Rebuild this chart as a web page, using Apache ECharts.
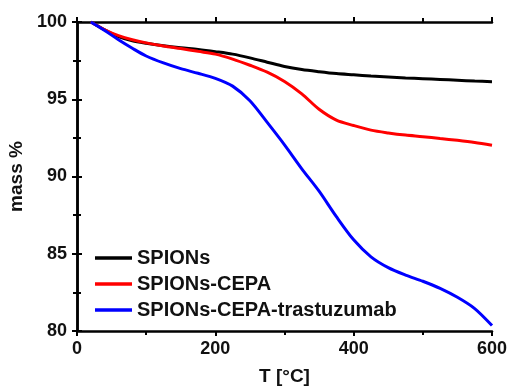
<!DOCTYPE html>
<html>
<head>
<meta charset="utf-8">
<script src="https://cdn.jsdelivr.net/npm/echarts@6/dist/echarts.min.js"></script>
<style>
  html, body { margin: 0; padding: 0; background: #fff; }
  #chart { width: 510px; height: 387px; }
</style>
</head>
<body>
<div id="chart"></div>
<script>
// temperature grid (°C)
const temps = [20, 40, 60, 80, 100, 125, 150, 175, 200, 225, 250, 275, 300,
  325, 350, 375, 400, 425, 450, 475, 500, 525, 550, 575, 600];
const spions = [100, 99.5, 99.05, 98.78, 98.62, 98.46, 98.33, 98.22, 98.08, 97.92, 97.68, 97.4, 97.12,
  96.92, 96.78, 96.66, 96.58, 96.5, 96.44, 96.38, 96.33, 96.28, 96.23, 96.18, 96.14];
const spionsCepa = [100, 99.5, 99.12, 98.85, 98.65, 98.45, 98.28, 98.1, 97.92, 97.6, 97.2, 96.75, 96.15,
  95.35, 94.35, 93.65, 93.3, 93.0, 92.82, 92.68, 92.58, 92.46, 92.34, 92.2, 92.02];
const spionsCepaTras = [100, 99.45, 98.85, 98.3, 97.8, 97.35, 96.98, 96.68, 96.35, 95.85, 94.9, 93.5, 92.05,
  90.5, 89.05, 87.4, 85.9, 84.8, 84.1, 83.62, 83.22, 82.76, 82.18, 81.45, 80.35];

const seriesNames = ['SPIONs', 'SPIONs-CEPA', 'SPIONs-CEPA-trastuzumab'];
const seriesColors = ['#000000', '#ff0000', '#0000ff'];
const seriesValues = [spions, spionsCepa, spionsCepaTras];

const font = 'Liberation Sans, Arial, sans-serif';
const txt = (size) => ({ fontFamily: font, fontWeight: 'bold', fontSize: size, color: '#111' });
const axisLine = { lineStyle: { color: '#000', width: 2.5 } };

const chart = echarts.init(document.getElementById('chart'));

const baseX = {
  type: 'value', min: 0, max: 600, interval: 200,
  axisLine: axisLine,
  axisTick: { show: true, length: 5, lineStyle: { width: 2 } },
  minorTick: { show: true, splitNumber: 2, length: 4, lineStyle: { color: '#000', width: 2 } },
  splitLine: { show: false }
};
const baseY = {
  type: 'value', min: 80, max: 100, interval: 5,
  axisLine: axisLine,
  axisTick: { show: true, length: 5, lineStyle: { width: 2 } },
  minorTick: { show: true, splitNumber: 2, length: 4, lineStyle: { color: '#000', width: 2 } },
  splitLine: { show: false }
};

chart.setOption({
  animation: false,
  grid: { left: 77, right: 18, top: 22, bottom: 56, outerBoundsMode: 'none', containLabel: false },
  legend: {
    orient: 'vertical',
    left: 90, top: 243,
    itemGap: 6,
    icon: 'rect',
    itemWidth: 37, itemHeight: 3.5,
    textStyle: txt(20),
    data: seriesNames
  },
  xAxis: [
    Object.assign({}, baseX, {
      position: 'bottom',
      name: 'T [°C]', nameLocation: 'middle', nameGap: 36,
      nameTextStyle: txt(19),
      axisLabel: Object.assign(txt(18), { margin: 9 })
    }),
    Object.assign({}, baseX, { position: 'top', axisLabel: { show: false } })
  ],
  yAxis: [
    Object.assign({}, baseY, {
      position: 'left',
      name: 'mass %', nameLocation: 'middle', nameGap: 48,
      nameTextStyle: txt(19),
      axisLabel: Object.assign(txt(18), { margin: 10 })
    }),
    Object.assign({}, baseY, { position: 'right', axisLabel: { show: false } })
  ],
  series: seriesNames.map((name, i) => ({
    name: name,
    type: 'line',
    smooth: 0.3,
    showSymbol: false,
    color: seriesColors[i],
    lineStyle: { width: 3, color: seriesColors[i] },
    data: temps.map((t, j) => [t, seriesValues[i][j]])
  }))
});
</script>
</body>
</html>
